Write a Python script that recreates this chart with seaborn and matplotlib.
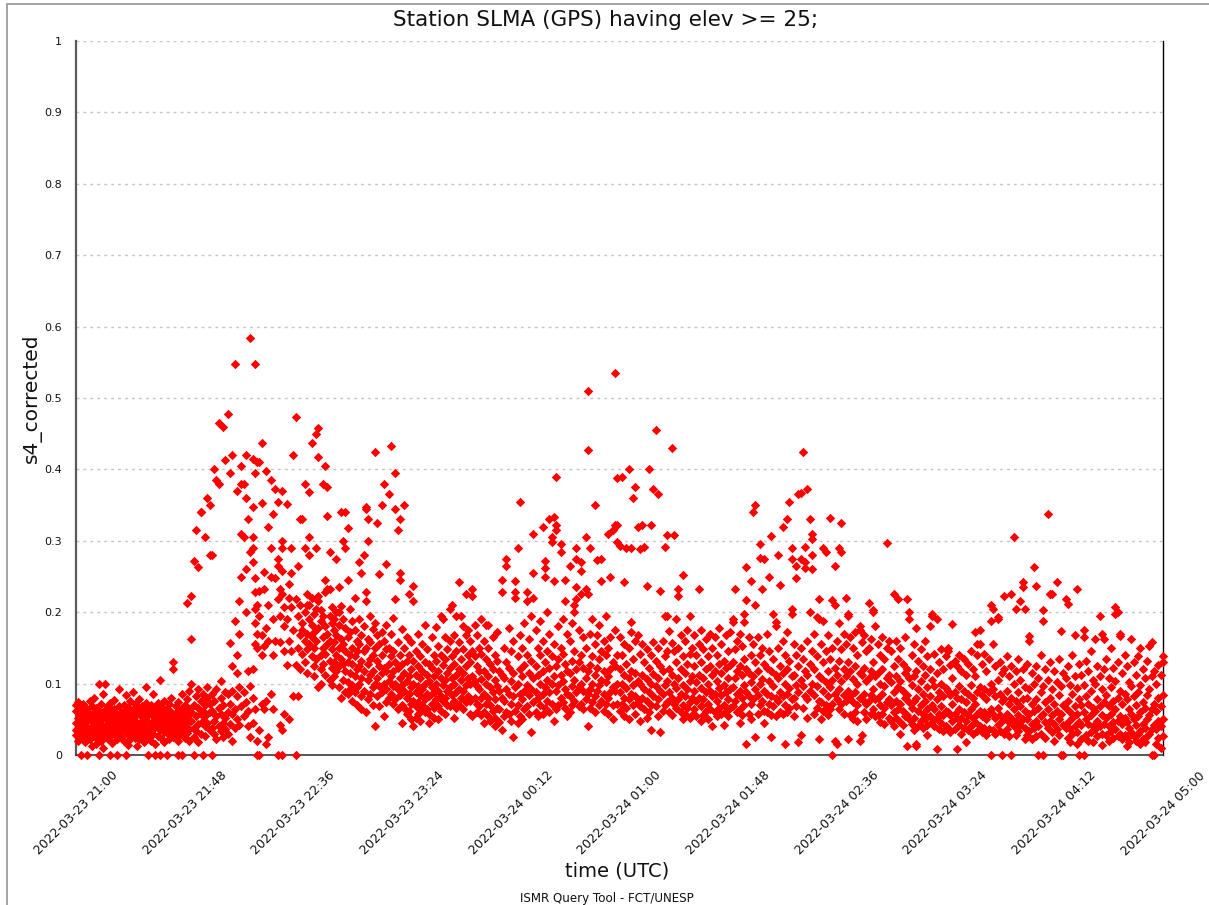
import matplotlib
matplotlib.use("Agg")
import matplotlib.pyplot as plt
from matplotlib.patches import Rectangle
import pandas as pd
import seaborn as sns

# s4_corrected samples in thousandths; one inner list per minute of each hour
hour_starts = ["2022-03-23 21:00", "2022-03-23 22:00", "2022-03-23 23:00",
               "2022-03-24 00:00", "2022-03-24 01:00", "2022-03-24 02:00",
               "2022-03-24 03:00", "2022-03-24 04:00"]

s4_h21 = [
    [45, 28, 62, 70, 35], [52, 20, 38, 74], [0, 44, 58, 30, 66], [25, 48, 71, 39], [55, 33, 18, 60, 42],
    [0, 47, 64, 29], [36, 57, 22, 75, 50], [41, 68, 27, 12], [59, 34, 46, 80], [24, 53, 38, 66, 15],
    [0, 100, 43, 61, 30], [49, 20, 72, 35], [56, 28, 85, 41, 10], [100, 63, 37, 52], [45, 23, 69, 31, 58],
    [0, 40, 55, 26, 73], [34, 62, 48, 17], [51, 29, 77, 43, 64], [0, 38, 56, 22], [92, 47, 30, 68, 55],
    [36, 60, 25, 44], [53, 19, 70, 38, 61], [0, 46, 32, 84], [28, 57, 41, 67, 14], [50, 35, 75, 22],
    [44, 63, 30, 54, 88], [24, 48, 71, 36], [58, 31, 45, 66, 12], [40, 22, 60, 79], [35, 53, 27, 69, 47],
    [62, 18, 42, 55], [30, 73, 49, 38, 95], [0, 56, 25, 64], [43, 34, 70, 20, 58], [85, 47, 29, 61],
    [0, 39, 66, 52, 16], [27, 58, 44, 73], [0, 105, 35, 62, 48], [41, 23, 67, 54], [32, 59, 76, 45, 18],
    [0, 50, 37, 65], [28, 71, 43, 56, 22], [60, 35, 80, 47], [120, 130, 39, 58, 25], [45, 68, 31, 53],
    [0, 37, 62, 20, 74], [49, 28, 57, 40], [0, 66, 34, 85, 50], [42, 24, 70, 58], [213, 55, 31, 78, 45],
    [36, 64, 20, 90], [223, 163, 100, 48, 60], [0, 272, 38, 70, 25], [315, 55, 82, 33], [264, 44, 66, 92, 18],
    [340, 340, 58, 30, 75], [0, 48, 85, 62], [305, 40, 70, 55, 26], [360, 80, 45, 95], [350, 280, 60, 35, 72],
]

s4_h22 = [
    [280, 0, 62, 38, 85], [400, 48, 75, 30], [385, 55, 92, 22], [380, 465, 66, 40], [58, 33, 80, 104],
    [460, 45, 70, 25], [413, 88, 52, 36], [478, 85, 60, 30], [395, 157, 72, 44], [420, 125, 20, 58, 90],
    [548, 187, 65, 38], [370, 140, 115, 50, 82], [216, 170, 95, 42], [405, 250, 380, 310, 68], [380, 305, 55, 88],
    [420, 360, 260, 200, 74], [330, 118, 62, 40], [584, 285, 25, 96], [415, 348, 305, 290, 270, 120, 80, 45],
    [547, 395, 248, 228, 205, 185, 155, 65],
    [410, 210, 170, 150, 0, 20], [410, 230, 195, 0, 35], [437, 353, 168, 140, 72], [257, 232, 152, 65],
    [398, 178, 75, 15], [320, 210, 160, 25], [385, 290, 250, 85], [338, 190, 140, 65], [373, 248, 160],
    [355, 275, 265, 218, 0],
    [232, 195, 158, 42], [370, 300, 290, 258, 225, 0, 35], [207, 180, 145, 58], [352, 190, 126],
    [240, 220, 160, 50], [290, 255, 207, 145], [420, 175, 82], [473, 218, 126, 0], [265, 195, 150, 82],
    [330, 210, 168, 120],
    [330, 185, 142, 175], [380, 290, 200, 160, 130], [225, 210, 170, 148, 115], [368, 305, 280, 210, 190, 155],
    [437, 220, 182, 138, 165], [198, 172, 150, 125, 110], [450, 290, 205, 160, 135],
    [458, 418, 222, 215, 95, 178], [203, 188, 140, 120, 100], [380, 195, 165, 150, 128],
    [405, 245, 228, 180, 142, 112], [375, 335, 232, 170, 155], [285, 232, 195, 160, 132, 105],
    [207, 185, 148, 122, 98], [190, 175, 158, 130, 110], [275, 200, 168, 140, 118],
    [235, 200, 182, 150, 125, 95], [340, 208, 162, 135, 80], [300, 190, 155, 128, 105],
    [340, 290, 178, 145, 118, 88],
]

s4_h23 = [
    [318, 245, 165, 130, 102, 85], [205, 172, 140, 115, 92], [188, 150, 128, 98, 75], [220, 175, 138, 110, 88],
    [160, 145, 120, 95, 70], [270, 190, 155, 125, 100], [255, 168, 132, 108, 82, 65], [280, 180, 145, 118, 90],
    [345, 347, 228, 216, 150, 60], [330, 300, 162, 128, 105, 78],
    [195, 158, 135, 112, 86], [176, 140, 118, 95, 70], [425, 185, 150, 100, 40], [325, 168, 132, 108, 82],
    [253, 155, 125, 96, 68], [350, 172, 140, 115, 88], [380, 160, 122, 100, 55], [267, 182, 148, 118, 92, 74],
    [365, 150, 128, 104, 80], [433, 170, 138, 110, 85],
    [192, 145, 118, 96, 72], [395, 345, 218, 130, 100, 78], [315, 158, 122, 92, 65],
    [330, 255, 245, 140, 108, 84], [176, 128, 98, 70, 45], [350, 150, 115, 90, 66], [165, 132, 104, 80, 58],
    [225, 140, 110, 86, 62], [158, 120, 95, 72, 50], [237, 215, 132, 100, 76, 40],
    [145, 112, 88, 68, 52], [170, 125, 96, 74, 58], [138, 108, 84, 63, 48], [155, 118, 92, 70],
    [182, 130, 100, 78, 60], [148, 112, 86, 65], [128, 104, 82, 58, 45], [165, 122, 95, 72],
    [140, 110, 88, 66, 52], [179, 132, 100, 78],
    [152, 118, 90, 68, 50], [195, 140, 108, 82, 62], [190, 126, 98, 75], [165, 135, 105, 80, 58],
    [148, 115, 90, 70], [204, 160, 122, 95, 68], [210, 138, 108, 84], [168, 128, 100, 76, 52],
    [195, 145, 112, 88, 66], [242, 158, 120, 92, 70],
    [195, 135, 105, 80], [180, 148, 115, 90, 64], [225, 168, 125, 98, 74], [175, 140, 108, 82],
    [160, 130, 100, 76, 58], [233, 222, 145, 110, 55], [182, 138, 104, 80], [168, 125, 96, 72, 60],
    [150, 118, 92, 68], [190, 142, 106, 80, 56],
]

s4_h00 = [
    [160, 118, 86, 60, 45], [182, 135, 100, 72], [182, 150, 110, 80, 55], [128, 95, 70, 48], [165, 120, 88, 62],
    [140, 105, 78, 52, 40], [172, 132, 96, 66], [118, 90, 64, 46], [245, 228, 112, 80, 35], [150, 108, 76, 55],
    [275, 265, 130, 92, 60], [178, 122, 86, 58], [145, 104, 72, 48], [160, 115, 82, 25],
    [243, 228, 220, 95, 62], [290, 138, 100, 70, 45], [355, 168, 120, 85, 55], [150, 110, 78, 50],
    [185, 126, 90, 64], [228, 215, 140, 98, 68],
    [162, 115, 84, 58], [195, 132, 92, 32], [310, 255, 220, 108, 74], [175, 125, 88, 60], [150, 112, 80, 54],
    [188, 140, 100, 70], [320, 160, 118, 86, 58], [272, 262, 250, 130, 95, 66], [200, 145, 105, 75],
    [330, 170, 122, 88, 60],
    [298, 305, 138, 100, 72], [333, 243, 155, 110, 48], [390, 315, 322, 125, 90, 64], [180, 135, 98, 70],
    [285, 295, 150, 112, 80], [190, 142, 104, 74], [215, 245, 128, 92, 66], [170, 118, 86, 55],
    [265, 160, 115, 82, 60], [185, 132, 96, 70],
    [210, 200, 145, 105, 75], [290, 275, 235, 218, 120, 88], [175, 130, 95, 68], [270, 258, 225, 140, 100, 72],
    [165, 122, 90, 64], [305, 233, 150, 108, 78], [510, 427, 225, 118, 85, 40], [290, 170, 126, 92, 66],
    [190, 138, 100, 74], [350, 155, 112, 82, 60],
    [273, 168, 122, 90], [182, 135, 98, 70], [275, 243, 145, 105, 76], [160, 118, 86, 62], [195, 140, 102, 72],
    [310, 150, 110, 80, 58], [250, 165, 120, 88], [315, 130, 95, 70, 50], [535, 322, 175, 125, 90],
    [388, 298, 322, 140, 100, 72],
]

s4_h01 = [
    [293, 165, 120, 88, 62], [390, 140, 100, 72], [242, 155, 112, 80, 55], [290, 128, 94, 66],
    [400, 150, 108, 78, 50], [290, 186, 172, 118, 85], [360, 135, 98, 70], [375, 160, 115, 82, 58],
    [320, 168, 104, 74], [288, 142, 100, 68, 48],
    [322, 155, 112, 80], [292, 130, 92, 64], [236, 148, 106, 76, 52], [400, 122, 88, 60],
    [322, 140, 100, 70, 35], [372, 158, 114, 82], [455, 132, 96, 68], [366, 150, 108, 78, 55],
    [230, 125, 90, 32], [160, 118, 86, 62],
    [292, 194, 138, 98, 70], [308, 195, 145, 104, 74], [173, 120, 88, 60], [430, 157, 112, 80, 56],
    [308, 145, 100, 72], [190, 130, 94, 66], [233, 222, 150, 108, 78], [168, 120, 86, 60],
    [252, 138, 98, 70, 50], [160, 115, 82, 58],
    [175, 128, 92, 66], [194, 142, 104, 74, 52], [150, 110, 80, 56], [168, 124, 90, 64], [140, 102, 76, 54],
    [232, 155, 112, 80], [175, 130, 94, 68, 48], [148, 108, 78, 56], [162, 120, 88, 62], [138, 100, 72, 50],
    [170, 125, 90, 64], [150, 112, 82, 40], [165, 118, 86, 60], [140, 104, 76, 54], [178, 128, 94, 66],
    [155, 115, 84, 58], [132, 98, 70, 42], [168, 122, 88, 62], [145, 108, 78, 55], [172, 126, 92, 66],
    [190, 186, 130, 95, 68], [232, 148, 108, 76], [160, 118, 86, 60], [170, 124, 90, 64, 45],
    [152, 112, 80, 56], [197, 186, 135, 98, 70], [264, 217, 120, 88, 16], [165, 115, 82, 58],
    [243, 140, 102, 72, 50], [340, 155, 110, 78],
]

s4_h02 = [
    [350, 210, 130, 92, 25], [165, 118, 84, 58], [296, 276, 140, 100, 70], [232, 150, 106, 75],
    [274, 128, 90, 62, 45], [170, 122, 86, 60], [250, 145, 104, 72], [307, 118, 82, 56, 25],
    [197, 135, 96, 68], [186, 180, 112, 80, 54],
    [280, 150, 108, 75], [238, 125, 88, 60], [320, 160, 115, 82, 58], [140, 100, 70, 15],
    [330, 172, 120, 86, 60], [354, 132, 94, 66], [290, 274, 205, 197, 110, 78], [155, 112, 80, 55],
    [265, 248, 140, 98, 68], [366, 125, 88, 18],
    [367, 275, 150, 105, 28], [425, 135, 96, 66], [292, 270, 262, 118, 82], [373, 160, 112, 78, 52],
    [330, 200, 128, 90], [310, 302, 280, 260, 145, 100], [170, 120, 84, 58], [193, 138, 96, 66],
    [218, 190, 110, 76, 22], [155, 108, 74, 50],
    [290, 187, 130, 90, 62], [285, 145, 102, 70], [168, 118, 82, 56], [332, 135, 95, 64],
    [217, 150, 105, 72, 0], [265, 210, 122, 86, 20], [160, 112, 78, 15], [290, 185, 132, 92, 64],
    [325, 284, 148, 104, 72], [170, 120, 84, 58],
    [220, 155, 110, 76], [195, 198, 130, 90, 23], [165, 118, 82, 56], [150, 106, 74, 50],
    [172, 124, 88, 60], [140, 100, 70, 48], [180, 175, 115, 80, 20], [158, 112, 78, 28],
    [168, 122, 86, 60], [145, 104, 72, 50],
    [213, 150, 108, 76], [162, 118, 84, 58], [203, 200, 130, 92, 64], [180, 110, 78, 54],
    [155, 115, 80, 56], [140, 100, 70, 46], [165, 120, 85, 58], [135, 96, 66, 44], [297, 150, 108, 74],
    [160, 112, 78, 52],
]

s4_h03 = [
    [145, 102, 70, 48], [225, 125, 88, 60, 40], [160, 110, 76, 52], [218, 135, 95, 64],
    [150, 104, 72, 46, 30], [128, 90, 62, 42], [165, 115, 80, 55], [218, 120, 84, 56, 12],
    [200, 190, 108, 74, 50], [140, 98, 66, 44],
    [155, 110, 76, 52, 35], [178, 118, 80, 15, 12], [132, 92, 62, 40], [148, 104, 70, 48],
    [125, 86, 58, 38], [160, 112, 76, 50], [138, 95, 64, 42, 28], [180, 120, 82, 54],
    [197, 195, 105, 70, 46], [142, 96, 64, 40],
    [190, 115, 78, 52, 8], [130, 88, 58, 36], [148, 100, 68, 45], [120, 82, 56, 34], [138, 94, 62, 40],
    [150, 145, 90, 60, 38], [126, 84, 56, 32], [183, 108, 72, 48], [132, 88, 58, 36], [125, 80, 52, 8],
    [140, 96, 64, 42], [118, 78, 52, 30], [135, 90, 60, 38], [112, 74, 48, 18], [128, 86, 56, 35],
    [145, 98, 64, 40], [120, 80, 52, 30], [172, 110, 72, 46], [155, 140, 88, 58, 34],
    [175, 155, 95, 62, 40],
    [128, 84, 55, 32], [142, 92, 60, 38], [118, 78, 50, 28], [135, 88, 58, 36], [210, 187, 100, 64, 0],
    [205, 155, 92, 58, 35], [125, 82, 52, 30], [190, 193, 105, 66, 42], [130, 86, 56, 34],
    [115, 75, 48, 0],
    [222, 120, 78, 50, 30], [138, 90, 58, 36], [110, 72, 46, 26], [226, 125, 80, 52, 0],
    [305, 100, 64, 40], [205, 118, 76, 48, 28], [135, 88, 56, 34], [215, 105, 68, 42],
    [242, 235, 120, 78, 50], [204, 95, 62, 38, 22],
]

s4_h04 = [
    [128, 80, 50, 28], [167, 160, 92, 58, 34], [115, 72, 44, 22], [264, 100, 62, 38],
    [237, 125, 78, 48, 26], [108, 66, 40, 0], [140, 88, 54, 30], [203, 187, 96, 58, 0],
    [120, 74, 46, 24], [337, 105, 64, 38],
    [226, 226, 130, 80, 48], [225, 92, 56, 32], [118, 72, 44, 20], [242, 102, 62, 36], [135, 84, 50, 28],
    [173, 96, 58, 0], [115, 70, 42, 0], [218, 108, 66, 38], [212, 125, 76, 46, 24], [98, 60, 36, 18],
    [140, 86, 52, 30], [168, 110, 68, 40], [233, 94, 58, 32, 15], [128, 78, 46, 0], [112, 70, 42, 22],
    [175, 165, 98, 60, 0], [132, 82, 50, 28], [118, 72, 44, 20], [145, 90, 56, 32], [105, 66, 40, 18],
    [163, 100, 62, 36], [125, 78, 48, 26], [195, 110, 68, 40], [170, 92, 56, 30, 14], [162, 120, 74, 44],
    [135, 84, 52, 28], [108, 68, 40, 20], [150, 95, 58, 34], [122, 76, 46, 24], [207, 197, 104, 64, 36],
    [200, 130, 80, 48, 26], [170, 167, 90, 54, 30], [115, 72, 44, 22], [140, 86, 52, 28],
    [125, 78, 46, 24, 12], [102, 64, 38, 18], [163, 96, 58, 32], [130, 82, 50, 26], [112, 70, 42, 20],
    [138, 88, 54, 30],
    [150, 98, 60, 34, 16], [120, 74, 44, 22], [108, 66, 38, 18], [132, 84, 50, 26], [153, 92, 56, 30],
    [158, 110, 64, 36, 0], [118, 72, 42, 0], [100, 62, 36, 16], [126, 80, 48, 24], [112, 68, 40, 10],
    [138, 130, 84, 50, 26],
]

x_tick_labels = ["2022-03-23 21:00", "2022-03-23 21:48", "2022-03-23 22:36", "2022-03-23 23:24",
                 "2022-03-24 00:12", "2022-03-24 01:00", "2022-03-24 01:48", "2022-03-24 02:36",
                 "2022-03-24 03:24", "2022-03-24 04:12", "2022-03-24 05:00"]
y_ticks = [0, 0.1, 0.2, 0.3, 0.4, 0.5, 0.6, 0.7, 0.8, 0.9, 1]
y_tick_labels = ["0", "0.1", "0.2", "0.3", "0.4", "0.5", "0.6", "0.7", "0.8", "0.9", "1"]

hourly = [s4_h21, s4_h22, s4_h23, s4_h00, s4_h01, s4_h02, s4_h03, s4_h04]
rows = []
for start, minutes in zip(hour_starts, hourly):
    t0 = pd.Timestamp(start)
    for k, vals in enumerate(minutes):
        for v in vals:
            rows.append((t0 + pd.Timedelta(minutes=k), v / 1000.0))
df = pd.DataFrame(rows, columns=["time", "s4_corrected"])

sns.set_style("white")
plt.rcParams["font.family"] = ["DejaVu Sans"]

W, H = 1209, 905
fig = plt.figure(figsize=(W / 100, H / 100), dpi=100)
left, right, top, bottom = 76, 1163, 41, 755
ax = fig.add_axes([left / W, 1 - bottom / H, (right - left) / W, (bottom - top) / H])

sns.scatterplot(data=df, x="time", y="s4_corrected", ax=ax, marker="D", s=23,
                color="#ff0000", linewidth=0, clip_on=False, zorder=3)

tick_times = [pd.Timestamp(t) for t in x_tick_labels]
ax.set_xlim(tick_times[0], tick_times[-1])
ax.set_ylim(0, 1)
ax.set_xticks(tick_times)
ax.set_xticklabels(x_tick_labels, rotation=45, ha="center", fontsize=9)
ax.set_yticks(y_ticks)
ax.set_yticklabels(y_tick_labels, fontsize=8)
ax.set_xlabel("")
ax.set_ylabel("")

ax.yaxis.grid(True, linestyle=(0, (2, 3)), color="#c4c4c4", linewidth=1)
ax.xaxis.grid(False)
ax.set_axisbelow(True)

ax.spines["top"].set_visible(False)
ax.spines["left"].set_color("#5a5a5a")
ax.spines["left"].set_linewidth(1.6)
ax.spines["bottom"].set_color("#3a3a3a")
ax.spines["bottom"].set_linewidth(1.2)
ax.spines["right"].set_color("#000000")
ax.spines["right"].set_linewidth(1.0)
ax.tick_params(axis="both", direction="inout", length=8, width=1.2, color="#3a3a3a",
               labelcolor="#111111", pad=6)

fig.text(606 / W, 1 - 20 / H, "Station SLMA (GPS) having elev >= 25;", ha="center", va="center",
         fontsize=15.5, color="#111111")
fig.text(617 / W, 1 - 871 / H, "time (UTC)", ha="center", va="center", fontsize=14, color="#111111")
fig.text(32 / W, 1 - 398 / H, "s4_corrected", ha="center", va="center", rotation=90,
         fontsize=14.5, color="#111111")
fig.text(607 / W, 1 - 898 / H, "ISMR Query Tool - FCT/UNESP", ha="center", va="center",
         fontsize=8.6, color="#111111")

frame = Rectangle((6.5 / W, -0.05), 2.0, 1 - 4.5 / H + 0.05, transform=fig.transFigure,
                  fill=False, edgecolor="#9c9c9c", linewidth=1.3, clip_on=False)
fig.add_artist(frame)

fig.savefig("out.png", dpi=100)
